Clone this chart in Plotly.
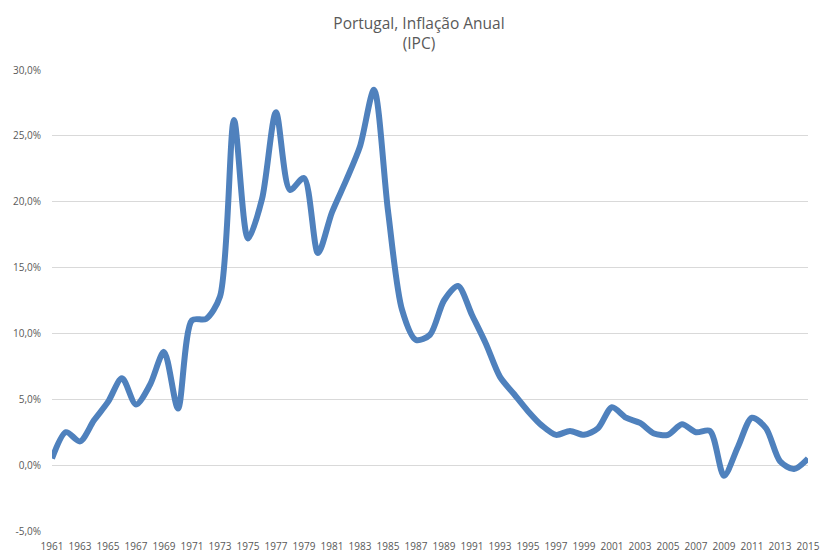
import plotly.graph_objects as go

years = list(range(1961, 2016))
inflation = [0.5, 2.5, 1.8, 3.4, 4.8, 6.6, 4.6, 6.1, 8.6, 4.3,
             11.0, 11.1, 12.8, 26.2, 17.2, 20.2, 26.8, 20.9, 21.8, 16.1,
             19.2, 21.6, 24.2, 28.5, 19.3, 11.8, 9.5, 9.9, 12.5, 13.6,
             11.4, 9.2, 6.7, 5.4, 4.1, 3.0, 2.3, 2.6, 2.3, 2.8,
             4.4, 3.6, 3.2, 2.4, 2.3, 3.1, 2.5, 2.6, -0.8, 1.4,
             3.6, 2.8, 0.3, -0.3, 0.5]
x_ticks = list(range(1961, 2016, 2))
y_ticks = [-5, 0, 5, 10, 15, 20, 25, 30]

fig = go.Figure()
fig.add_trace(go.Scatter(
    x=years, y=inflation, mode="lines",
    line=dict(color="#4F81BD", width=6, shape="spline", smoothing=0.8),
    hoverinfo="x+y"))

fig.update_layout(
    width=822, height=553,
    paper_bgcolor="white", plot_bgcolor="white",
    margin=dict(l=52, r=14, t=70, b=22, autoexpand=False),
    separators=", ",
    showlegend=False,
    font=dict(family="Open Sans, Liberation Sans, sans-serif", color="#595959", size=10),
    title=dict(text="Portugal, Inflação Anual<br>(IPC)", xref="container", x=0.5097,
               xanchor="center",
               yref="container", y=0.948, yanchor="top",
               font=dict(size=15.5, color="#595959")),
)
fig.update_xaxes(range=[1961, 2015], tickvals=x_ticks, ticktext=[str(v) for v in x_ticks],
                 showgrid=False, zeroline=False, showline=False, automargin=False,
                 ticks="outside", ticklen=6, tickcolor="rgba(0,0,0,0)",
                 tickfont=dict(size=10, color="#595959"), tickangle=0)
fig.update_yaxes(range=[-5, 30], tickvals=y_ticks,
                 ticktext=[f"{v},0%" for v in y_ticks],
                 showgrid=True, gridcolor="#D9D9D9", gridwidth=1,
                 zeroline=False, showline=False, automargin=False,
                 ticks="outside", ticklen=8, tickcolor="rgba(0,0,0,0)",
                 tickfont=dict(size=10, color="#595959"))

fig.write_html("out.html", config={"displayModeBar": False},
               post_script="document.body.style.margin='0';document.body.style.padding='0';")
